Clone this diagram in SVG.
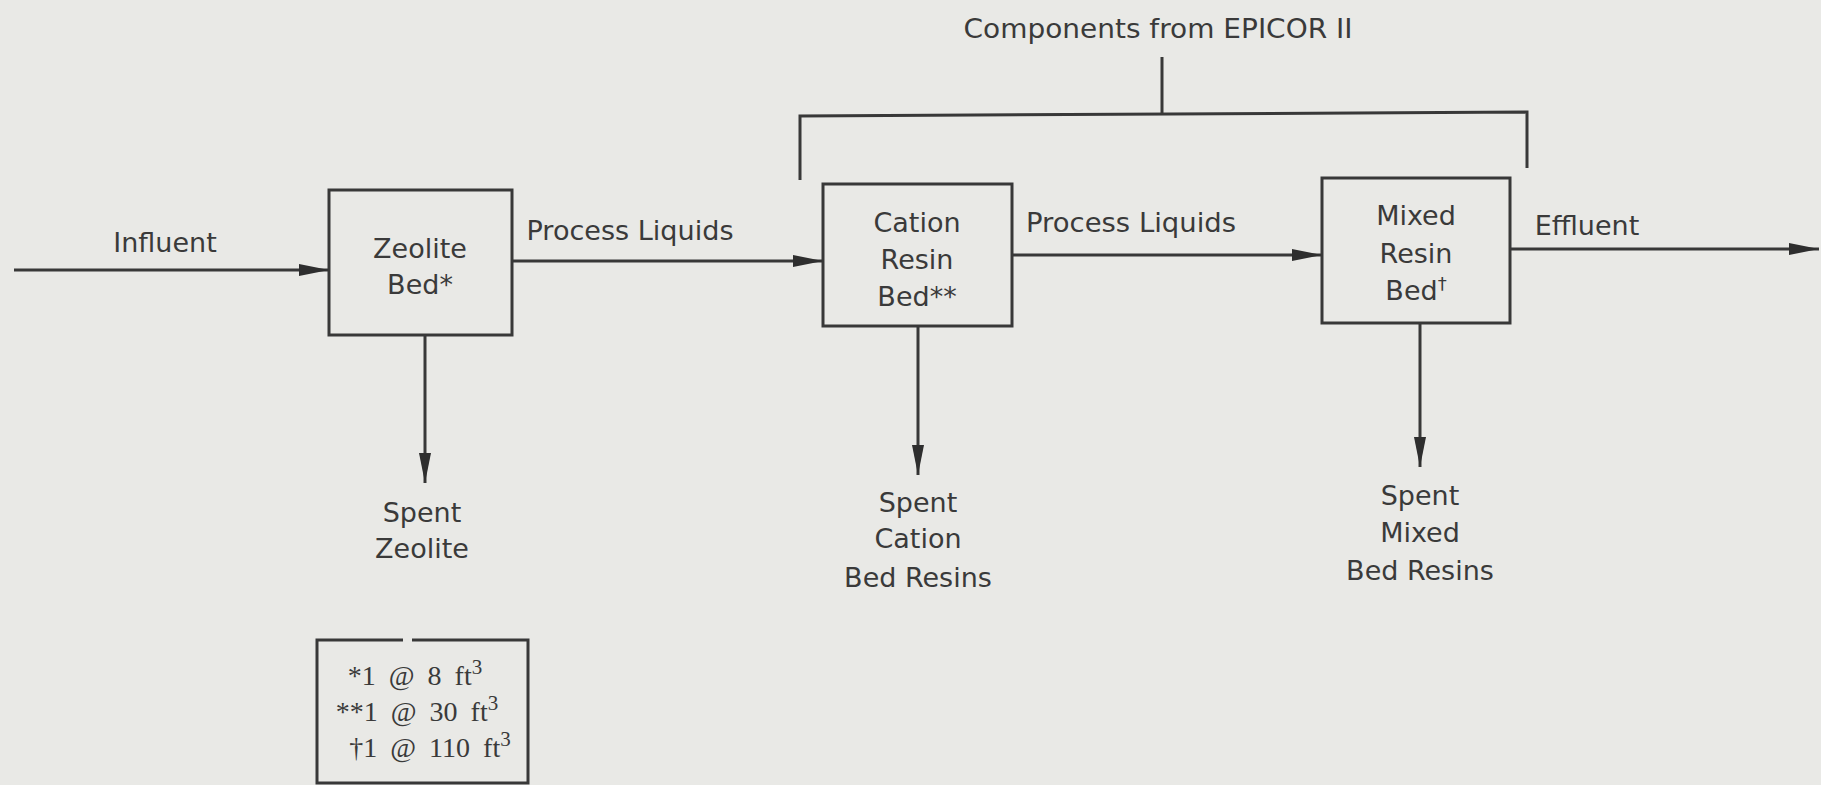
<svg xmlns="http://www.w3.org/2000/svg" width="1821" height="785" viewBox="0 0 1821 785">
<style>
.bg{fill:#e9e9e6}
.box{fill:none;stroke:#383838;stroke-width:3}
.ln{fill:none;stroke:#383838;stroke-width:3}
.t{font-family:"DejaVu Sans",sans-serif;font-size:27px;fill:#3a3a3a;text-anchor:middle}
.s{font-family:"Liberation Serif",serif;font-size:28px;fill:#3a3a3a;text-anchor:middle;word-spacing:6px}
.sup{font-size:21px}
</style>
<defs>
<marker id="ah" markerUnits="userSpaceOnUse" markerWidth="32" markerHeight="16" refX="30" refY="8" orient="auto">
<path d="M0,2 L30,8 L0,14 z" fill="#2e2e2e"/>
</marker>
</defs>
<rect class="bg" x="0" y="0" width="1821" height="785"/>

<g id="title">
<text class="t" x="1158" y="38" textLength="389" lengthAdjust="spacingAndGlyphs">Components from EPICOR II</text>
</g>

<g id="zeolite">
<rect class="box" x="329" y="190" width="183" height="145"/>
<text class="t" x="420" y="258">Zeolite</text>
<text class="t" x="420" y="294">Bed*</text>
</g>

<g id="cation">
<rect class="box" x="823" y="184" width="189" height="142"/>
<text class="t" x="917" y="232">Cation</text>
<text class="t" x="917" y="269">Resin</text>
<text class="t" x="917" y="306">Bed**</text>
</g>

<g id="mixed">
<rect class="box" x="1322" y="178" width="188" height="145"/>
<text class="t" x="1416" y="225">Mixed</text>
<text class="t" x="1416" y="263">Resin</text>
<text class="t" x="1416" y="300">Bed<tspan font-size="18" dy="-10">†</tspan></text>
</g>

<g id="spent-zeolite">
<text class="t" x="422" y="522">Spent</text>
<text class="t" x="422" y="558">Zeolite</text>
</g>

<g id="spent-cation">
<text class="t" x="918" y="512">Spent</text>
<text class="t" x="918" y="548">Cation</text>
<text class="t" x="918" y="587">Bed Resins</text>
</g>

<g id="spent-mixed">
<text class="t" x="1420" y="505">Spent</text>
<text class="t" x="1420" y="542">Mixed</text>
<text class="t" x="1420" y="580">Bed Resins</text>
</g>

<g id="legend">
<path class="box" d="M403,640 L317,640 L317,783 L528,783 L528,640 L412,640"/>
<text class="s" x="415" y="685">*1 @ 8 ft<tspan class="sup" dy="-11">3</tspan></text>
<text class="s" x="417" y="721">**1 @ 30 ft<tspan class="sup" dy="-11">3</tspan></text>
<text class="s" x="430" y="757">†1 @ 110 ft<tspan class="sup" dy="-11">3</tspan></text>
</g>

<g id="connectors">
<line class="ln" x1="14" y1="270" x2="329" y2="270" marker-end="url(#ah)"/>
<text class="t" x="165" y="252">Influent</text>
<line class="ln" x1="512" y1="261" x2="823" y2="261" marker-end="url(#ah)"/>
<text class="t" x="630" y="240" textLength="207" lengthAdjust="spacingAndGlyphs">Process Liquids</text>
<line class="ln" x1="1012" y1="255" x2="1322" y2="255" marker-end="url(#ah)"/>
<text class="t" x="1131" y="232" textLength="210" lengthAdjust="spacingAndGlyphs">Process Liquids</text>
<line class="ln" x1="1510" y1="249" x2="1819" y2="249" marker-end="url(#ah)"/>
<text class="t" x="1587" y="235">Effluent</text>
<line class="ln" x1="425" y1="335" x2="425" y2="483" marker-end="url(#ah)"/>
<line class="ln" x1="918" y1="326" x2="918" y2="475" marker-end="url(#ah)"/>
<line class="ln" x1="1420" y1="323" x2="1420" y2="467" marker-end="url(#ah)"/>
<polyline class="ln" points="800,180 800,116 1527,112 1527,168"/>
<line class="ln" x1="1162" y1="57" x2="1162" y2="114"/>
</g>
</svg>
